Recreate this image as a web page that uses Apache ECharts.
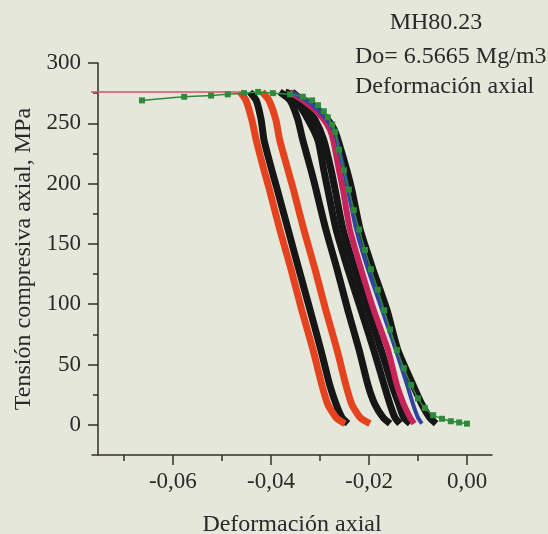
<!DOCTYPE html>
<html>
<head>
<meta charset="utf-8">
<script src="https://cdn.jsdelivr.net/npm/echarts@6/dist/echarts.min.js"></script>
<style>
  html, body { margin: 0; padding: 0; background: #e4e7da; }
  #chart { width: 548px; height: 534px; }
</style>
</head>
<body>
<div id="chart"></div>
<script>
// Tick values
const xMajorTicks = [-0.06, -0.04, -0.02, 0.00];
const xMinorTicks = [-0.07, -0.05, -0.03, -0.01];
const yMajorTicks = [0, 50, 100, 150, 200, 250, 300];
const yMinorTicks = [25, 75, 125, 175, 225, 275];

// Stress levels (MPa) shared by the left-hand specimen curves
const stressA = [276, 269, 253, 236, 211, 195, 162, 129, 95, 62, 33, 17, 6, 1];
const strainRed1   = [-0.0463, -0.0451, -0.0439, -0.0430, -0.0414, -0.0403, -0.0382, -0.0359, -0.0337, -0.0314, -0.0296, -0.0284, -0.0267, -0.0249];
const strainBlack1 = [-0.0443, -0.0430, -0.0420, -0.0414, -0.0398, -0.0387, -0.0365, -0.0343, -0.0320, -0.0298, -0.0280, -0.0267, -0.0255, -0.0243];
const strainRed2   = [-0.0418, -0.0404, -0.0390, -0.0382, -0.0365, -0.0354, -0.0333, -0.0310, -0.0288, -0.0265, -0.0247, -0.0235, -0.0218, -0.0198];
const strainBlack2 = [-0.0382, -0.0361, -0.0345, -0.0335, -0.0318, -0.0308, -0.0288, -0.0265, -0.0243, -0.0220, -0.0202, -0.0188, -0.0171, -0.0157];
const strainBlack3 = [-0.0369, -0.0349, -0.0324, -0.0304, -0.0292, -0.0284, -0.0267, -0.0243, -0.0216, -0.0190, -0.0169, -0.0157, -0.0147, -0.0137];
const strainBlack4 = [-0.0357, -0.0337, -0.0310, -0.0292, -0.0277, -0.0269, -0.0253, -0.0229, -0.0202, -0.0175, -0.0153, -0.0139, -0.0129, -0.0116];

// Stress levels (MPa) for the right-hand group
const stressB = [276, 269, 261, 253, 245, 236, 211, 195, 162, 129, 95, 62, 33, 17, 6, 1];
const strainPink   = [-0.0361, -0.0335, -0.0310, -0.0292, -0.0280, -0.0273, -0.0261, -0.0253, -0.0239, -0.0216, -0.0190, -0.0161, -0.0143, -0.0129, -0.0116, -0.0108];
const strainBlue   = [-0.0357, -0.0328, -0.0304, -0.0286, -0.0273, -0.0265, -0.0251, -0.0243, -0.0226, -0.0202, -0.0173, -0.0145, -0.0122, -0.0110, -0.0100, -0.0092];
const strainBlack5 = [-0.0371, -0.0331, -0.0304, -0.0284, -0.0271, -0.0263, -0.0245, -0.0235, -0.0218, -0.0192, -0.0163, -0.0141, -0.0110, -0.0092, -0.0076, -0.0063];

// Outermost specimen, plotted with its measured points
const strainGreen = [-0.0663, -0.0577, -0.0522, -0.0488, -0.0455, -0.0426, -0.0396, -0.0361, -0.0335, -0.0316,
                     -0.0304, -0.0292, -0.0284, -0.0275, -0.0269, -0.0261, -0.0251, -0.0241, -0.0231, -0.0220,
                     -0.0208, -0.0196, -0.0182, -0.0169, -0.0157, -0.0143, -0.0129, -0.0114, -0.0100, -0.0086,
                     -0.0069, -0.0051, -0.0033, -0.0016, 0.0000];
const stressGreen = [269, 272, 273, 274, 275, 276, 275, 274, 272, 269,
                     265, 260, 255, 249, 243, 228, 211, 195, 178, 162,
                     145, 129, 112, 95, 79, 62, 47, 33, 22, 14,
                     8, 5, 3, 2, 1];

// Plateau preceding the first collapse
const strainPlateau = [-0.0800, -0.0463];
const stressPlateau = [276, 276];

const FONT = 'Liberation Serif';
const INK = '#2a2a2a';
const AXIS = '#332e2a';

function pairs(xs, ys) { return xs.map((x, i) => [x, ys[i]]); }

function curve(name, xs, ys, color, width) {
  return {
    name: name, type: 'line', data: pairs(xs, ys),
    showSymbol: false, smooth: 0.2,
    lineStyle: { color: color, width: width, cap: 'butt', join: 'round' }, itemStyle: { color: color },
    clip: true, silent: true, animation: false
  };
}

const series = [
  curve('Plateau', strainPlateau, stressPlateau, '#d9506a', 1.5),
  curve('Probeta 2', strainBlack1, stressA, '#161616', 7),
  curve('Probeta 1', strainRed1, stressA, '#e5431f', 7),
  curve('Probeta 4', strainBlack2, stressA, '#161616', 7),
  curve('Probeta 5', strainBlack3, stressA, '#161616', 7),
  curve('Probeta 6', strainBlack4, stressA, '#161616', 7),
  curve('Probeta 3', strainRed2, stressA, '#e5431f', 7),
  curve('Probeta 9', strainBlack5, stressB, '#161616', 7),
  curve('Probeta 7', strainPink, stressB, '#c8245c', 6),
  curve('Probeta 8', strainBlue, stressB, '#2f43a0', 4),
  {
    name: 'Probeta 10', type: 'line', data: pairs(strainGreen, stressGreen),
    symbol: 'rect', symbolSize: 6, showSymbol: true, smooth: 0.2,
    lineStyle: { color: '#2f8a3c', width: 1.5 }, itemStyle: { color: '#2f8a3c' },
    silent: true, animation: false
  }
];

const chart = echarts.init(document.getElementById('chart'), null, { renderer: 'canvas' });
chart.setOption({
  backgroundColor: '#e4e7da',
  animation: false,
  grid: { left: 92, right: 56, top: 63, bottom: 79, containLabel: false, outerBoundsMode: 'none' },
  xAxis: [
    {
      type: 'value', min: -0.0765, max: 0.0051, position: 'bottom',
      name: 'Deformación axial', nameLocation: 'middle', nameGap: 58,
      nameTextStyle: { fontFamily: FONT, fontSize: 24, color: INK },
      axisLine: { show: true, onZero: false, lineStyle: { color: AXIS, width: 1.5 } },
      axisTick: { show: true, customValues: xMajorTicks, length: 10, lineStyle: { color: AXIS, width: 1.5 } },
      axisLabel: { show: true, customValues: xMajorTicks, margin: 15, fontFamily: FONT, fontSize: 23, color: INK,
                   formatter: v => v.toFixed(2).replace('.', ',') },
      splitLine: { show: false }
    },
    {
      type: 'value', min: -0.0765, max: 0.0051, position: 'bottom',
      axisLine: { show: false, onZero: false },
      axisTick: { show: true, customValues: xMinorTicks, length: 6, lineStyle: { color: AXIS, width: 1.5 } },
      axisLabel: { show: false }, splitLine: { show: false }
    }
  ],
  yAxis: [
    {
      type: 'value', min: -25, max: 300, position: 'left', offset: -6,
      name: 'Tensión compresiva axial, MPa', nameLocation: 'middle', nameRotate: 90, nameGap: 62,
      nameTextStyle: { fontFamily: FONT, fontSize: 24, color: INK },
      axisLine: { show: true, onZero: false, lineStyle: { color: AXIS, width: 1.5 } },
      axisTick: { show: true, customValues: yMajorTicks, length: 10, lineStyle: { color: AXIS, width: 1.5 } },
      axisLabel: { show: true, customValues: yMajorTicks, margin: 17, fontFamily: FONT, fontSize: 23, color: INK },
      splitLine: { show: false }
    },
    {
      type: 'value', min: -25, max: 300, position: 'left', offset: -6,
      axisLine: { show: false, onZero: false },
      axisTick: { show: true, customValues: yMinorTicks, length: 5, lineStyle: { color: AXIS, width: 1.5 } },
      axisLabel: { show: false }, splitLine: { show: false }
    }
  ],
  graphic: [
    { type: 'text', x: 436, y: 23, style: { text: 'MH80.23', font: '24px "Liberation Serif"', fill: INK, align: 'center', verticalAlign: 'middle' } },
    { type: 'text', x: 355, y: 57, style: { text: 'Do= 6.5665 Mg/m3', font: '24px "Liberation Serif"', fill: INK, align: 'left', verticalAlign: 'middle' } },
    { type: 'text', x: 355, y: 87, style: { text: 'Deformación axial', font: '24px "Liberation Serif"', fill: INK, align: 'left', verticalAlign: 'middle' } }
  ],
  series: series
});
</script>
</body>
</html>
